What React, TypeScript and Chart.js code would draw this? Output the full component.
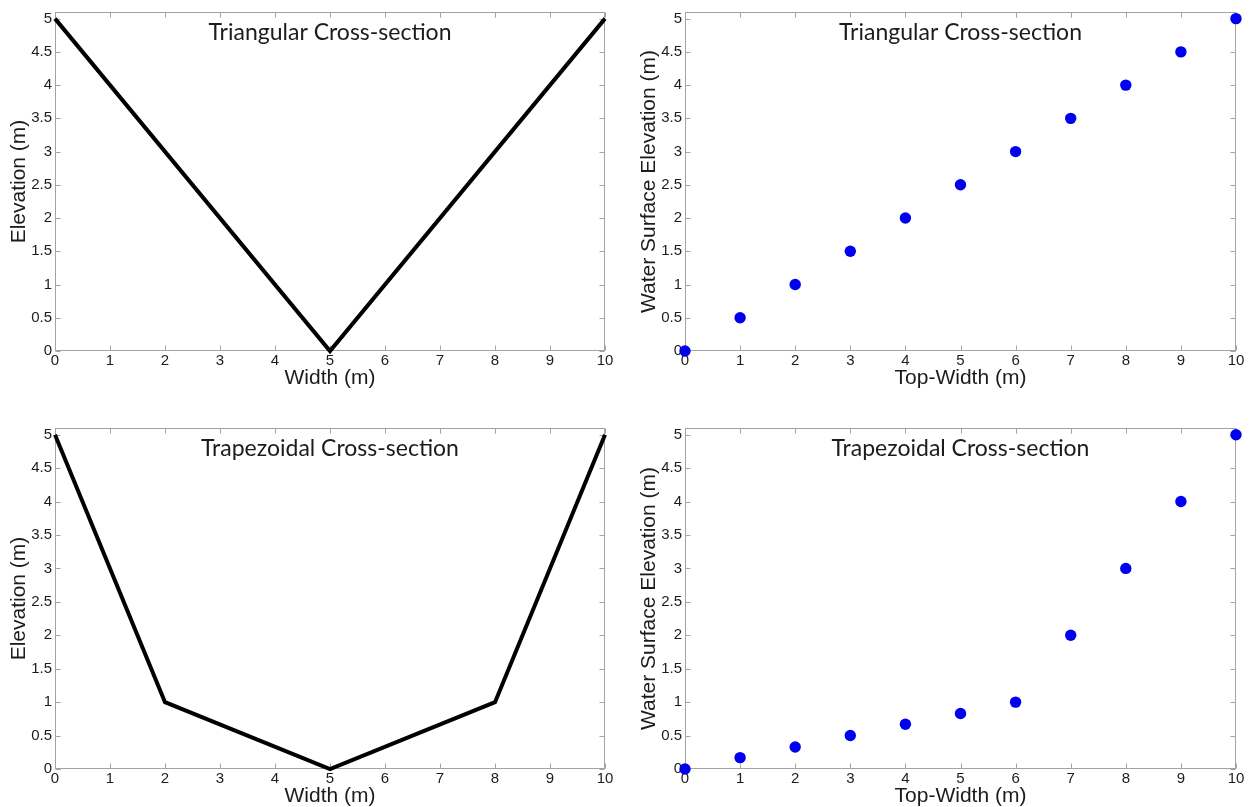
import React, { useEffect, useRef } from 'react';
import { Chart, registerables } from 'chart.js';

Chart.register(...registerables);

// ---- data ----
const triWidth = [0, 5, 10];
const triElev = [5, 0, 5];
const trapWidth = [0, 2, 5, 8, 10];
const trapElev = [5, 1, 0, 1, 5];
const topWidths = [0, 1, 2, 3, 4, 5, 6, 7, 8, 9, 10];
const triWse = [0, 0.5, 1, 1.5, 2, 2.5, 3, 3.5, 4, 4.5, 5];
const trapWse = [0, 0.17, 0.33, 0.5, 0.67, 0.83, 1, 2, 3, 4, 5];
const xTickValues = [0, 1, 2, 3, 4, 5, 6, 7, 8, 9, 10];
const yTickValues = [0, 0.5, 1, 1.5, 2, 2.5, 3, 3.5, 4, 4.5, 5];

type Panel = {
  title: string;
  xTitle: string;
  yTitle: string;
  kind: 'line' | 'scatter';
  xs: number[];
  ys: number[];
  pos: { left: number; top: number; w: number; h: number };
  area: { left: number; top: number; right: number; bottom: number };
};

const panels: Panel[] = [
  {
    title: 'Triangular Cross-section', xTitle: 'Width (m)', yTitle: 'Elevation (m)',
    kind: 'line', xs: triWidth, ys: triElev,
    pos: { left: 0, top: 0, w: 625, h: 404 },
    area: { left: 55, top: 9, right: 605, bottom: 351 },
  },
  {
    title: 'Triangular Cross-section', xTitle: 'Top-Width (m)', yTitle: 'Water Surface Elevation (m)',
    kind: 'scatter', xs: topWidths, ys: triWse,
    pos: { left: 625, top: 0, w: 626, h: 404 },
    area: { left: 60, top: 9, right: 611, bottom: 351 },
  },
  {
    title: 'Trapezoidal Cross-section', xTitle: 'Width (m)', yTitle: 'Elevation (m)',
    kind: 'line', xs: trapWidth, ys: trapElev,
    pos: { left: 0, top: 404, w: 625, h: 403 },
    area: { left: 55, top: 24, right: 605, bottom: 365 },
  },
  {
    title: 'Trapezoidal Cross-section', xTitle: 'Top-Width (m)', yTitle: 'Water Surface Elevation (m)',
    kind: 'scatter', xs: topWidths, ys: trapWse,
    pos: { left: 625, top: 404, w: 626, h: 403 },
    area: { left: 60, top: 24, right: 611, bottom: 365 },
  },
];

const FRAME = '#a3a3a3';
const TEXT = '#1c1c1c';
const TICK_FONT = { family: 'Liberation Sans, Arial, sans-serif', size: 15 };

function makeFramePlugin(p: Panel) {
  return {
    id: 'frameAndText',
    beforeDatasetsDraw(chart: any) {
      const { ctx, chartArea: a, scales } = chart;
      const xs = scales.x, ys = scales.y;
      ctx.save();
      ctx.strokeStyle = FRAME;
      ctx.lineWidth = 1;
      const L = Math.round(a.left) + 0.5, R = Math.round(a.right) - 0.5;
      const T = Math.round(a.top) + 0.5, B = Math.round(a.bottom) - 0.5;
      ctx.strokeRect(L, T, R - L, B - T);
      const tl = 5;
      ctx.beginPath();
      xTickValues.forEach((v) => {
        const px = Math.round(xs.getPixelForValue(v)) + 0.5;
        ctx.moveTo(px, B); ctx.lineTo(px, B - tl);
        ctx.moveTo(px, T); ctx.lineTo(px, T + tl);
      });
      yTickValues.forEach((v) => {
        const py = Math.round(ys.getPixelForValue(v)) + 0.5;
        ctx.moveTo(L, py); ctx.lineTo(L + tl, py);
        ctx.moveTo(R, py); ctx.lineTo(R - tl, py);
      });
      ctx.stroke();
      ctx.restore();
    },
    afterDraw(chart: any) {
      const { ctx, chartArea: a } = chart;
      ctx.save();
      ctx.fillStyle = TEXT;
      ctx.textAlign = 'center';
      ctx.textBaseline = 'alphabetic';
      // chart title (inside plot)
      ctx.font = '23px Lato, "Open Sans", sans-serif';
      ctx.fillText(p.title, (a.left + a.right) / 2, a.top + 27.5);
      // x axis title
      ctx.font = '21px "Liberation Sans", Arial, sans-serif';
      ctx.fillText(p.xTitle, (a.left + a.right) / 2, a.bottom + 33);
      // y axis title
      ctx.translate(a.left - 30, (a.top + a.bottom) / 2);
      ctx.rotate(-Math.PI / 2);
      ctx.fillText(p.yTitle, 0, 0);
      ctx.restore();
    },
  };
}

function PanelChart({ p }: { p: Panel }) {
  const ref = useRef<HTMLCanvasElement | null>(null);
  useEffect(() => {
    if (!ref.current) return;
    const points = p.xs.map((x, i) => ({ x, y: p.ys[i] }));
    const dataset: any =
      p.kind === 'line'
        ? {
            type: 'line', data: points, borderColor: '#000', borderWidth: 4,
            pointRadius: 0, tension: 0, borderJoinStyle: 'miter', fill: false, clip: false,
          }
        : {
            type: 'scatter', data: points, backgroundColor: '#0000f0', borderWidth: 0,
            pointRadius: 5.7, clip: false,
          };
    const chart = new Chart(ref.current, {
      type: p.kind === 'line' ? 'line' : 'scatter',
      data: { datasets: [dataset] },
      options: {
        animation: false,
        responsive: false,
        maintainAspectRatio: false,
        layout: { padding: { top: p.area.top, right: p.pos.w - p.area.right, left: 0, bottom: 0 } },
        plugins: { legend: { display: false }, tooltip: { enabled: false }, title: { display: false } },
        scales: {
          x: {
            type: 'linear', min: 0, max: 10,
            afterBuildTicks: (s: any) => { s.ticks = xTickValues.map((v) => ({ value: v })); },
            afterFit: (s: any) => { s.height = p.pos.h - p.area.bottom; },
            grid: { display: false, drawTicks: false },
            border: { display: false },
            ticks: { padding: 1, font: TICK_FONT, color: TEXT, maxRotation: 0, autoSkip: false, callback: (v: any) => String(v) },
          },
          y: {
            type: 'linear', min: 0, max: 5.1,
            afterBuildTicks: (s: any) => { s.ticks = yTickValues.map((v) => ({ value: v })); },
            afterFit: (s: any) => { s.width = p.area.left; },
            grid: { display: false, drawTicks: false },
            border: { display: false },
            ticks: { padding: 3, font: TICK_FONT, color: TEXT, autoSkip: false, callback: (v: any) => String(v) },
          },
        },
      } as any,
      plugins: [makeFramePlugin(p)],
    });
    return () => chart.destroy();
  }, [p]);
  return (
    <canvas
      ref={ref}
      width={p.pos.w}
      height={p.pos.h}
      style={{ position: 'absolute', left: p.pos.left, top: p.pos.top, width: p.pos.w, height: p.pos.h }}
    />
  );
}

export default function App() {
  return (
    <div style={{ position: 'absolute', left: 0, top: 0, width: 1251, height: 807, background: '#fff' }}>
      {panels.map((p, i) => (
        <PanelChart key={i} p={p} />
      ))}
    </div>
  );
}
